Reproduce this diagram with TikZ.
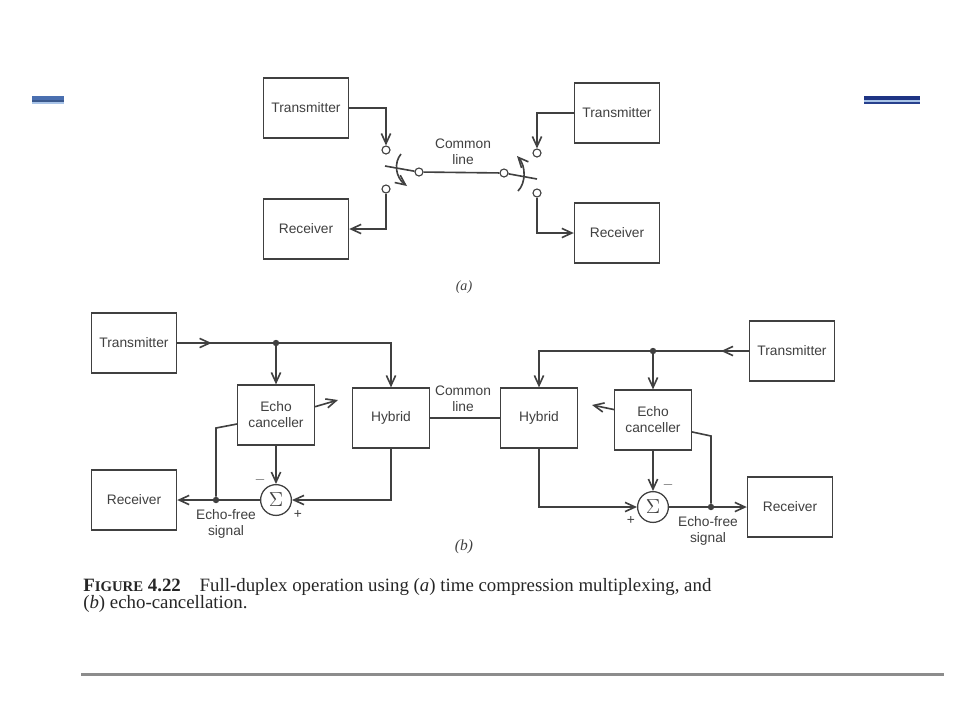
\documentclass[tikz,border=0pt]{standalone}
\usepackage{fontspec}
\setmainfont{Liberation Serif}
\setsansfont{Liberation Sans}
\usetikzlibrary{arrows.meta, decorations.markings, calc}
\definecolor{ink}{HTML}{404040}
\definecolor{barmid}{HTML}{4A6FB0}
\definecolor{barlite}{HTML}{A9C4E8}
\definecolor{barnavy}{HTML}{1E3484}
\definecolor{rulegray}{HTML}{8C8C8C}

\begin{document}
\begin{tikzpicture}[x=0.25mm, y=-0.25mm, >={Straight Barb[length=2.5mm,width=2.3mm]},
  blok/.style={draw=ink, line width=0.9pt, minimum width=21.3mm, minimum height=15mm, font=\sffamily\fontsize{9.8}{11.4}\selectfont, text=ink, align=center, inner sep=1pt},
  bloks/.style={blok, minimum width=19.2mm},
  term/.style={circle, draw=ink, line width=0.8pt, minimum size=2mm, inner sep=0pt, fill=white},
  sumnode/.style={circle, draw=ink, line width=0.9pt, minimum size=7.7mm, inner sep=0pt, text=ink, font=\Large},
  dot/.style={circle, fill=ink, minimum size=1.6mm, inner sep=0pt},
  lbl/.style={font=\sffamily\fontsize{9.8}{11.4}\selectfont, text=ink, align=center},
  captext/.style={anchor=base west, inner sep=0pt, font=\fontsize{13.4}{14}\selectfont, text=black!85},
  wire/.style={color=ink, line width=1.15pt},
  midarrow/.style={postaction={decorate}, decoration={markings, mark=at position #1 with {\arrow{>}}}}]
\fill[white] (0,0) rectangle (960,720);
\fill[barmid] (32,96) rectangle (64,99.5); \fill[barmid!80!black] (32,99.5) rectangle (64,101.5); \fill[barlite] (32,101.5) rectangle (64,104);
\fill[barnavy] (864,96) rectangle (920,99.5); \fill[barlite] (864,99.5) rectangle (920,101.5); \fill[barnavy!80!barmid] (864,101.5) rectangle (920,104);

\node[blok] (txA1) at (306,108) {Transmitter};
\node[blok] (rxA1) at (306,229) {Receiver};
\node[blok] (txA2) at (617,113) {Transmitter};
\node[blok] (rxA2) at (617,233) {Receiver};
\node[term] (tA1) at (386,150) {}; \node[term] (tA2) at (386,189) {};
\node[term] (tA3) at (537,153) {}; \node[term] (tA4) at (537,193) {};
\node[term] (pA1) at (419,172) {}; \node[term] (pA2) at (504,173) {};
\coordinate (armA1) at (385,166); \coordinate (armA2) at (537,179);
\node[lbl] (comA) at (463,152) {Common\\line};
\draw[wire,->] (txA1.east) -| (tA1.north);
\draw[wire,->] (tA2.south) |- (rxA1.east);
\draw[wire,->] (txA2.west) -| (tA3.north);
\draw[wire,->] (tA4.south) |- (rxA2.west);
\draw[wire] (armA1) -- (pA1) -- (pA2) -- (armA2);
\draw[wire,->] (401,154) .. controls (394,162) and (395,177) .. (407,186);
\draw[wire,->] (518,191) .. controls (526,183) and (526,166) .. (517,156);
\node[text=ink, font=\itshape] (capA) at (464,287) {(a)};

\node[blok] (txB1) at (134,343) {Transmitter};
\node[blok] (rxB1) at (134,500) {Receiver};
\node[bloks] (ecB1) at (276,415) {Echo\\canceller};
\node[bloks] (hyB1) at (391,418) {Hybrid};
\node[sumnode] (sB1) at (276,500) {$\Sigma$};
\node[dot] (jB1) at (276,343) {}; \node[dot] (jB2) at (216,500) {};
\coordinate (kB1) at (216,428); \coordinate (tipB1) at (338,400);
\draw[wire,midarrow=0.36] (txB1.east) -- (jB1);
\draw[wire,->] (jB1) -| (hyB1.north);
\draw[wire,->] (jB1) -- (ecB1);
\draw[wire,->] (ecB1.12) -- (tipB1);
\draw[wire] (ecB1.193) -- (kB1) -- (jB2);
\draw[wire,->] (sB1) -- (rxB1);
\draw[wire,->] (ecB1) -- (sB1);
\draw[wire,->] (hyB1.south) |- (sB1.east);
\node[lbl] (mnB1) at (260,480) {$-$}; \node[lbl] (plB1) at (298,515) {+};
\node[lbl] (efB1) at (226,524) {Echo-free\\signal};

\node[blok] (txB2) at (792,351) {Transmitter};
\node[blok] (rxB2) at (790,507) {Receiver};
\node[bloks] (ecB2) at (653,420) {Echo\\canceller};
\node[bloks] (hyB2) at (539,418) {Hybrid};
\node[sumnode] (sB2) at (653,507) {$\Sigma$};
\node[dot] (jB3) at (653,351) {}; \node[dot] (jB4) at (711,507) {};
\coordinate (kB2) at (711,436); \coordinate (tipB2) at (592,405);
\draw[wire,midarrow=0.3] (txB2.west) -- (jB3);
\draw[wire,->] (jB3) -| (hyB2.north);
\draw[wire,->] (jB3) -- (ecB2);
\draw[wire,->] (ecB2.165) -- (tipB2);
\draw[wire] (ecB2.-17) -- (kB2) -- (jB4);
\draw[wire,->] (sB2) -- (rxB2);
\draw[wire,->] (ecB2) -- (sB2);
\draw[wire,->] (hyB2.south) |- (sB2.west);
\node[lbl] (mnB2) at (668,485) {$-$}; \node[lbl] (plB2) at (631,521) {+};
\node[lbl] (efB2) at (708,531) {Echo-free\\signal};

\draw[wire] (hyB1) -- (hyB2);
\node[lbl] (comB) at (463,399) {Common\\line};
\node[text=ink, font=\itshape\fontsize{11}{12}\selectfont] (capB) at (464,547) {(b)};

\node[captext] (capL1) at (83,591) {{\bfseries F{\fontsize{10.5}{10}\selectfont IGURE} 4.22}\quad Full-duplex operation using (\textit{a}) time compression multiplexing, and};
\node[captext] (capL2) at (83,608) {(\textit{b}) echo-cancellation.};
\draw[rulegray, line width=0.75mm] (81,674) -- (944,674);
\end{tikzpicture}
\end{document}
